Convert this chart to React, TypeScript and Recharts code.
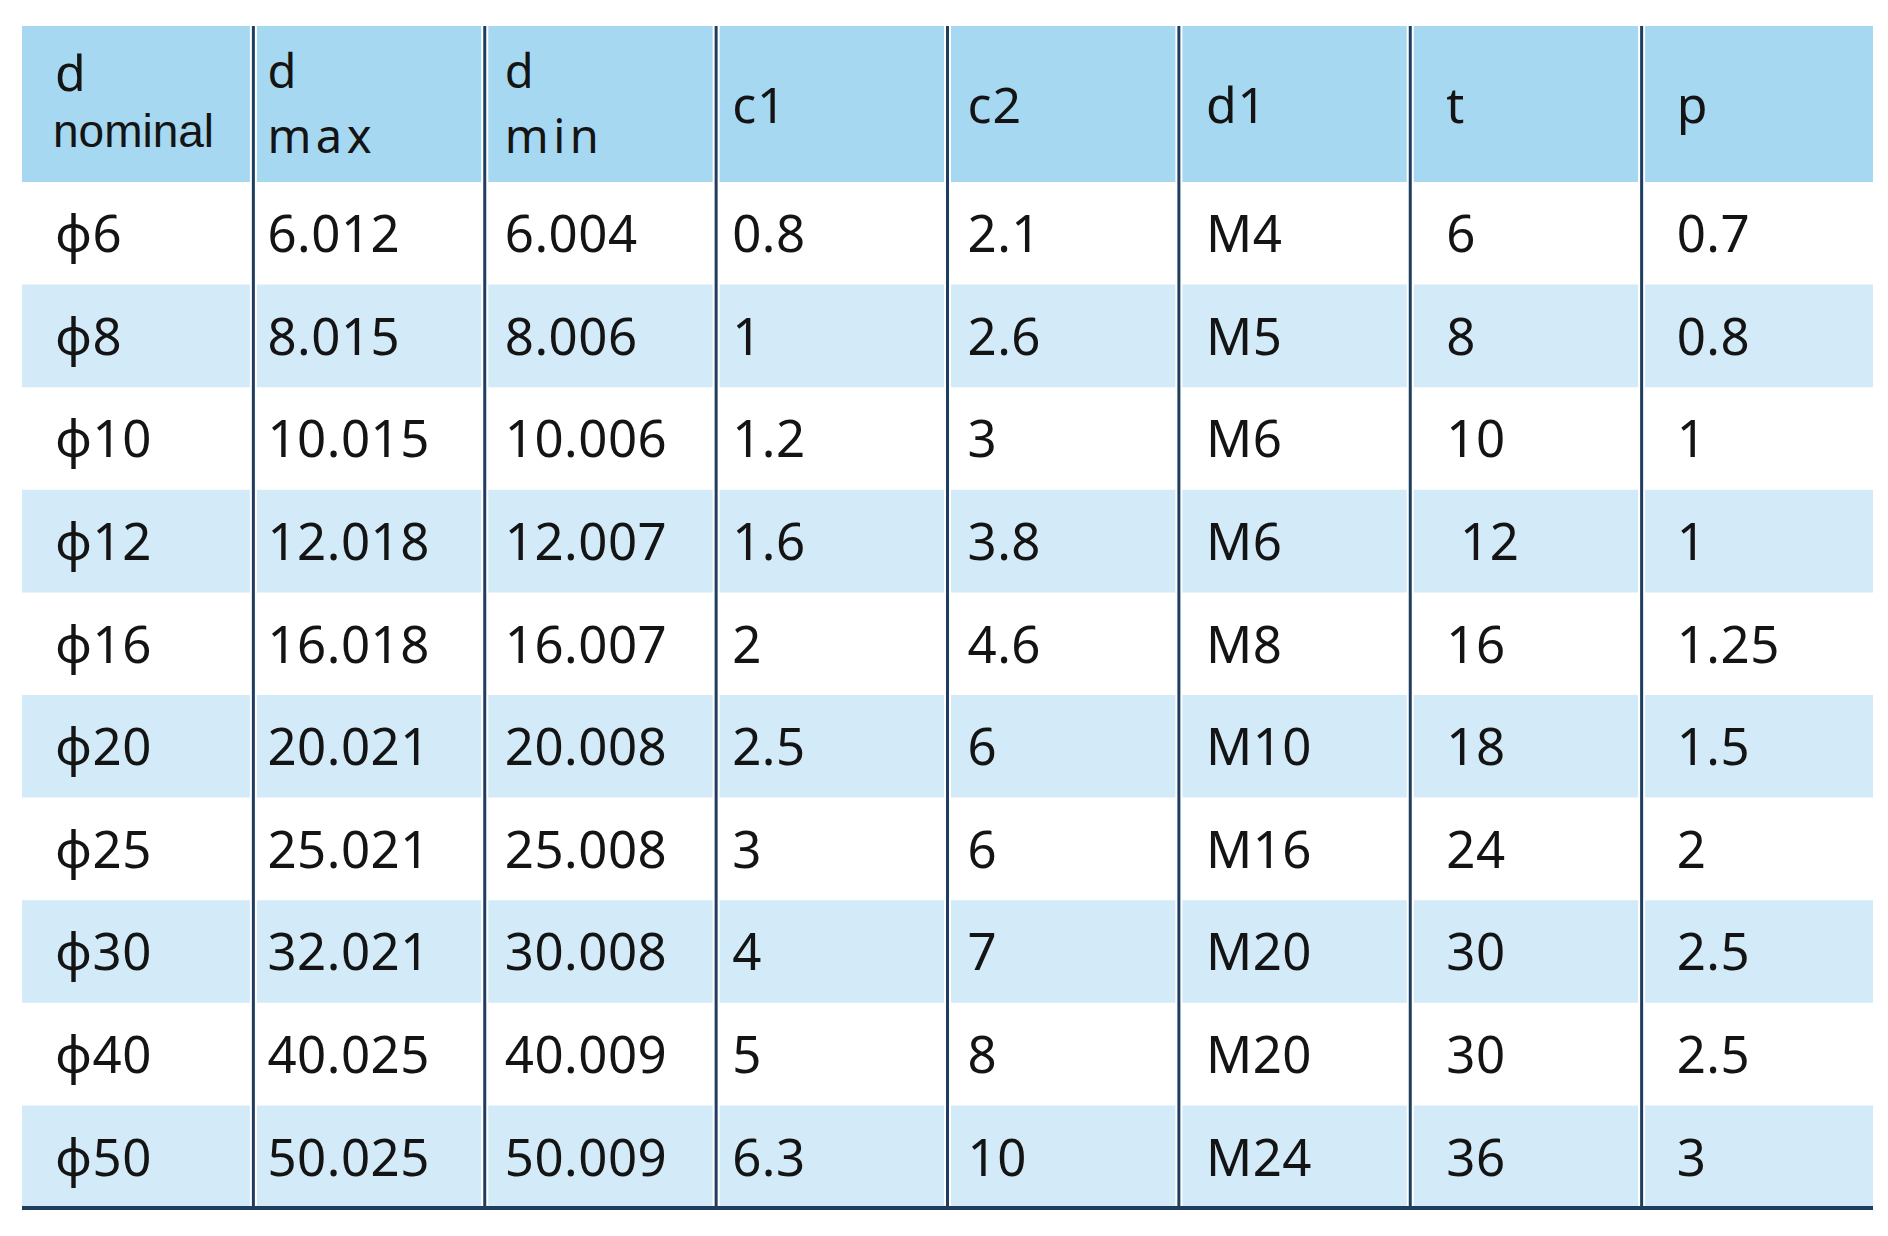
import React from "react";
import { ScatterChart, Scatter, XAxis, YAxis, ReferenceArea, ReferenceLine } from "recharts";

// Table contents, one array per column
const headers: string[][] = [["d", "nominal"], ["d", "max"], ["d", "min"], ["c1"], ["c2"], ["d1"], ["t"], ["p"]];
const dNominal = ["ϕ6", "ϕ8", "ϕ10", "ϕ12", "ϕ16", "ϕ20", "ϕ25", "ϕ30", "ϕ40", "ϕ50"];
const dMax = ["6.012", "8.015", "10.015", "12.018", "16.018", "20.021", "25.021", "32.021", "40.025", "50.025"];
const dMin = ["6.004", "8.006", "10.006", "12.007", "16.007", "20.008", "25.008", "30.008", "40.009", "50.009"];
const c1 = ["0.8", "1", "1.2", "1.6", "2", "2.5", "3", "4", "5", "6.3"];
const c2 = ["2.1", "2.6", "3", "3.8", "4.6", "6", "6", "7", "8", "10"];
const d1 = ["M4", "M5", "M6", "M6", "M8", "M10", "M16", "M20", "M20", "M24"];
const t = ["6", "8", "10", "\u00a012", "16", "18", "24", "30", "30", "36"];
const p = ["0.7", "0.8", "1", "1", "1.25", "1.5", "2", "2.5", "2.5", "3"];

const columnValues = [dNominal, dMax, dMin, c1, c2, d1, t, p];

// layout
const W = 1888;
const H = 1236;
const MARGIN = { top: 26, right: 15, bottom: 28, left: 22 };
const NCOLS = columnValues.length;
const NROWS = dNominal.length;
const HEADER_UNITS = 1.52; // header row is ~1.5x a body row
const UX = (W - MARGIN.left - MARGIN.right) / NCOLS;
const COL_PAD = [33, 14, 20, 16, 20, 27, 36, 35];

const HEADER_BG = "#a6d8f1";
const STRIPE_BG = "#d3eaf8";
const LINE = "#1f3d5e";
const INK = "#141414";
const FONT = "'Noto Sans', sans-serif";

const bodyPoints = columnValues.flatMap((vals, c) =>
  vals.map((v, r) => ({ x: c + 0.5, y: r + 0.5, label: v, col: c }))
);
const headerPoints = headers.map((h, c) => ({ x: c + 0.5, y: -HEADER_UNITS / 2, lines: h, col: c }));

function BodyCell(props: any) {
  const { cx, cy } = props;
  const d = props.payload ?? props;
  const left = cx - UX / 2 + COL_PAD[d.col];
  return (
    <text x={left} y={cy + 19} fill={INK} fontFamily={FONT} fontSize={51} letterSpacing={0.5}>
      {d.label}
    </text>
  );
}

function HeaderCell(props: any) {
  const { cx, cy } = props;
  const d = props.payload ?? props;
  const left = cx - UX / 2 + COL_PAD[d.col];
  if (d.lines.length === 1) {
    return (
      <text x={left} y={cy + 19} fill={INK} fontFamily={FONT} fontSize={50} letterSpacing={1}>
        {d.lines[0]}
      </text>
    );
  }
  const second = d.lines[1];
  if (second === "nominal") {
    return (
      <text x={left} y={cy - 13} fill={INK} fontFamily={FONT} fontSize={50}>
        <tspan>{d.lines[0]}</tspan>
        <tspan x={left - 2} dy={56} fontFamily="'Liberation Sans', Arial, sans-serif" fontSize={46}>
          {second}
        </tspan>
      </text>
    );
  }
  return (
    <text x={left} y={cy - 16} fill={INK} fontFamily={FONT} fontSize={47}>
      <tspan>{d.lines[0]}</tspan>
      <tspan x={left} dy={65} letterSpacing={4.5}>
        {second}
      </tspan>
    </text>
  );
}

export default function App() {
  const stripes = dNominal.map((_, r) => r).filter((r) => r % 2 === 1);
  const dividers = columnValues.slice(1).map((_, i) => i + 1);
  return (
    <div style={{ width: W, height: H, background: "#fff" }}>
      <style>{"body{margin:0}"}</style>
      <ScatterChart width={W} height={H} margin={MARGIN}>
        <XAxis type="number" dataKey="x" domain={[0, NCOLS]} allowDataOverflow hide />
        <YAxis type="number" dataKey="y" domain={[-HEADER_UNITS, NROWS]} allowDataOverflow reversed hide />
        <ReferenceArea x1={0} x2={NCOLS} y1={-HEADER_UNITS} y2={0} fill={HEADER_BG} fillOpacity={1} stroke="none" />
        {stripes.map((r) => (
          <ReferenceArea key={r} x1={0} x2={NCOLS} y1={r} y2={r + 1} fill={STRIPE_BG} fillOpacity={1} stroke="none" />
        ))}
        {dividers.map((k) => (
          <ReferenceLine key={`w${k}`} x={k} stroke="#ffffff" strokeWidth={7} />
        ))}
        {dividers.map((k) => (
          <ReferenceLine key={`n${k}`} x={k} stroke={LINE} strokeWidth={3} />
        ))}
        <ReferenceLine y={NROWS} stroke={LINE} strokeWidth={4} />
        <Scatter data={headerPoints} shape={HeaderCell} isAnimationActive={false} />
        <Scatter data={bodyPoints} shape={BodyCell} isAnimationActive={false} />
      </ScatterChart>
    </div>
  );
}
